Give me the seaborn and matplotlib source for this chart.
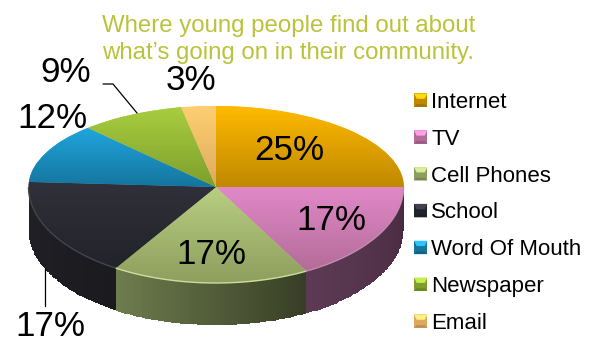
import numpy as np
import matplotlib
matplotlib.use("Agg")
import matplotlib.pyplot as plt
import seaborn as sns
from matplotlib.colors import LinearSegmentedColormap, to_rgb
from matplotlib.legend_handler import HandlerBase
from matplotlib.patches import Polygon
from matplotlib.transforms import Affine2D

categories = ["Internet", "TV", "Cell Phones", "School", "Word Of Mouth", "Newspaper", "Email"]
values = [25, 17, 17, 17, 12, 9, 3]
top_light = ["#FFB900", "#E088C8", "#B7CE80", "#30303A", "#20A4DC", "#A8CC3E", "#FDCF70"]
top_dark = ["#BF8800", "#B36C98", "#8E9E5E", "#22222A", "#14759E", "#7D9E2C", "#DDA95F"]
side_left = ["#8A6200", "#5C3A54", "#6E7D4E", "#212127", "#0E5470", "#5A7220", "#A07C40"]
side_right = ["#6A4A00", "#482A40", "#383E26", "#1A1A1F", "#0E5470", "#5A7220", "#A07C40"]
rim = ["#E8B020", "#C58AB0", "#CBDD9A", "#44444E", "#30A0D0", "#A8CC3E", "#FDCF70"]
label_pos = [(289, 150), (331, 221), (211, 255), (50, 327), (52, 118), (66, 73), (191, 81)]

W, H = 596, 343
CX, CY, RX, R_UP, R_DN, DEPTH = 216, 187, 187.5, 81, 96, 42

sns.set_theme(style="white")
plt.rcParams["font.family"] = ["Liberation Sans", "DejaVu Sans"]
palette = sns.color_palette(top_light)

fig = plt.figure(figsize=(W / 100, H / 100), dpi=100)
ax = fig.add_axes([0, 0, 1, 1])
px = Affine2D().scale(1 / W, -1 / H).translate(0, 1) + fig.transFigure

wedges, _ = ax.pie(values, colors=palette, startangle=90, counterclock=False,
                   wedgeprops=dict(linewidth=0, zorder=2))
k = R_UP / R_DN
ax.set_aspect("auto")
ax.set_yscale("function", functions=(
    lambda y: np.where(np.asarray(y) >= 0, np.asarray(y) * k, y),
    lambda y: np.where(np.asarray(y) >= 0, np.asarray(y) / k, y)))
ax.set_xlim(-CX / RX, (W - CX) / RX)
ax.set_ylim(-(H - CY) / R_DN, CY / R_UP)
ax.yaxis.set_major_locator(plt.NullLocator()); ax.yaxis.set_minor_locator(plt.NullLocator())
ax.axis("off")

ends = 90 - np.cumsum(values) * 3.6
starts = np.r_[90, ends[:-1]]
for i, w in enumerate(wedges):
    a0, a1 = np.radians(ends[i]), np.radians(starts[i])
    th = np.linspace(a0, a1, 200)
    ys = np.r_[np.sin(th), 0]
    y0, y1 = ys.min(), ys.max()
    cm = LinearSegmentedColormap.from_list("g", [top_dark[i], top_light[i]])
    gy = np.linspace(y0, y1, 61)
    gx = np.array([-1.02, 1.02])
    mesh = ax.pcolormesh(gx, gy, np.linspace(0, 1, 60)[:, None], cmap=cm, zorder=3, shading="flat")
    mesh.set_clip_path(w)

    low = th[np.sin(th) <= 0]
    if len(low) > 1:
        n = 60
        t = np.linspace(low.min(), low.max(), n + 1)
        xs, yt = np.cos(t), np.sin(t)
        cm2 = LinearSegmentedColormap.from_list("s", [side_left[i], side_right[i]])
        X = np.vstack([xs, xs])
        Y = np.vstack([yt, yt - DEPTH / R_DN])
        ax.pcolormesh(X, Y, np.linspace(0, 1, n)[None, :], cmap=cm2, zorder=1, shading="flat")
        ax.plot(xs, yt, color=rim[i], lw=1.0, zorder=4, solid_capstyle="butt")

for v, (x, y) in zip(values, label_pos):
    ax.text(x, y, f"{v}%", transform=px, ha="center", va="center",
            fontsize=25.2, color="black", zorder=6)

ax.plot([45, 45], [268, 306], transform=px, color="black", lw=0.9, zorder=5)
ax.plot([103, 113, 137], [84, 84, 113], transform=px, color="black", lw=0.9, zorder=5)

fig.text(102 / W, 1 - 39.5 / H, "Where young people find out about\nwhat\u2019s going on in their community.",
         fontsize=17.3, color="#BAC33B", ha="left", va="center", linespacing=1.28)


class Bevel(HandlerBase):
    def create_artists(self, legend, orig, xd, yd, width, height, fontsize, trans):
        c = np.array(to_rgb(orig.get_facecolor()[:3]))
        i = wedges.index(orig)
        d = np.array(to_rgb(top_dark[i])) * 0.85
        s = height
        x0, y0 = -xd, -yd
        b = s * 0.2
        base = Polygon([[x0, y0], [x0 + s, y0], [x0 + s, y0 + s], [x0, y0 + s]],
                       facecolor=np.array(to_rgb(top_dark[i])), transform=trans, lw=0)
        top = Polygon([[x0, y0 + s], [x0 + s, y0 + s], [x0 + s - b, y0 + s - b * 2], [x0 + b, y0 + s - b * 2]],
                      facecolor=np.minimum(c * 1.1 + 0.05, 1), transform=trans, lw=0)
        bot = Polygon([[x0, y0], [x0 + s, y0], [x0 + s - b, y0 + b], [x0 + b, y0 + b]],
                      facecolor=d, transform=trans, lw=0)
        return [base, top, bot]


leg = ax.legend(wedges, categories, handler_map={w: Bevel() for w in wedges},
                loc="upper left", bbox_to_anchor=(414, 92), bbox_transform=px,
                frameon=False, fontsize=16.05, labelspacing=0.71, handlelength=0.55,
                handleheight=0.55, handletextpad=0.22, borderpad=0, borderaxespad=0)
for t in leg.get_texts():
    t.set_color("black")

fig.savefig("out.png", dpi=100, facecolor="white")
